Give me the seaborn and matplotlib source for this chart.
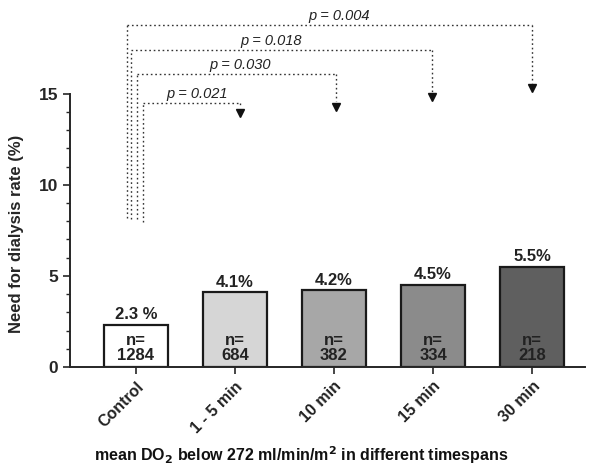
import matplotlib
matplotlib.use("Agg")
import matplotlib.pyplot as plt
import seaborn as sns
import pandas as pd
from matplotlib.ticker import FixedLocator

categories = ["Control", "1 - 5 min", "10 min", "15 min", "30 min"]
rates = [2.3, 4.1, 4.2, 4.5, 5.5]
rate_labels = ["2.3 %", "4.1%", "4.2%", "4.5%", "5.5%"]
n_values = [1284, 684, 382, 334, 218]
bar_colors = ["#ffffff", "#d6d6d6", "#a7a7a7", "#8b8b8b", "#5f5f5f"]

p_labels = ["p = 0.021", "p = 0.030", "p = 0.018", "p = 0.004"]
p_targets = [1, 2, 3, 4]

sns.set_style("ticks")
plt.rcParams["font.family"] = ["Liberation Sans", "DejaVu Sans"]

fig = plt.figure(figsize=(5.91, 4.68), dpi=100)
ax = fig.add_axes([0.118, 0.216, 0.872, 0.778])

df = pd.DataFrame({"cat": categories, "rate": rates})
sns.barplot(data=df, x="cat", y="rate", hue="cat", palette=bar_colors,
            width=0.65, edgecolor="#1a1a1a", linewidth=1.6, ax=ax, legend=False)

ax.set_ylim(0, 20)
ax.set_xlim(-0.667, 4.535)
ax.spines["left"].set_bounds(0, 15)
ax.spines["top"].set_visible(False)
ax.spines["right"].set_visible(False)
ax.spines["left"].set_linewidth(1.4)
ax.spines["bottom"].set_linewidth(1.4)
ax.set_yticks([0, 5, 10, 15])
ax.yaxis.set_minor_locator(FixedLocator([v for v in range(16) if v % 5]))
ax.tick_params(axis="y", which="major", length=5, width=1.2, labelsize=12.5)
ax.tick_params(axis="y", which="minor", length=3, width=1.0)
ax.tick_params(axis="x", length=5, width=1.2, labelsize=11.5)
for lbl in ax.get_yticklabels():
    lbl.set_fontweight("bold")
ax.set_xticks(range(len(categories)))
ax.set_xticklabels(categories, rotation=45, ha="right", rotation_mode="anchor",
                   fontweight="bold", color="#222222")

ax.set_ylabel("Need for dialysis rate (%)", fontsize=12, fontweight="bold")
ax.yaxis.set_label_coords(-0.088, 0.365)
ax.set_xlabel("")
fig.text(0.51, 0.028,
         "mean DO$_\\mathbf{2}$ below 272 ml/min/m$^\\mathbf{2}$ in different timespans",
         ha="center", va="center", fontsize=11.5, fontweight="bold", color="#111111")

for i, (r, lab, n) in enumerate(zip(rates, rate_labels, n_values)):
    ax.text(i, r + 0.15, lab, ha="center", va="bottom", fontsize=12,
            fontweight="bold", color="#222222")
    ax.text(i, 0.2, f"n=\n{n}", ha="center", va="bottom", fontsize=12,
            fontweight="bold", color="#222222", linespacing=1.05)

# significance brackets
lx = [0.07, 0.01, -0.05, -0.09]
top_y = [14.5, 16.1, 17.4, 18.8]
bottom_left = [7.95, 8.1, 8.1, 8.2]
arrow_y = [13.95, 14.3, 14.8, 15.3]
right_x = [1.05, 2.02, 2.99, 4.0]
text_x = [0.62, 1.05, 1.37, 2.05]
line_kw = dict(color="#333333", linestyle=(0, (1.2, 2.0)), linewidth=1.0)
for k, lab in enumerate(p_labels):
    x0, yt, xr = lx[k], top_y[k], right_x[k]
    ax.plot([x0, x0], [bottom_left[k], yt], **line_kw, clip_on=False)
    ax.plot([x0, xr], [yt, yt], **line_kw, clip_on=False)
    ax.plot([xr, xr], [yt, arrow_y[k] + 0.3], **line_kw, clip_on=False)
    ax.plot([xr], [arrow_y[k]], marker="v", color="#111111",
            markersize=5.5, clip_on=False)
    ax.text(text_x[k], yt + 0.1, lab, ha="center", va="bottom", fontsize=10.5,
            style="italic", color="#222222")

fig.savefig("out.png", dpi=100)
